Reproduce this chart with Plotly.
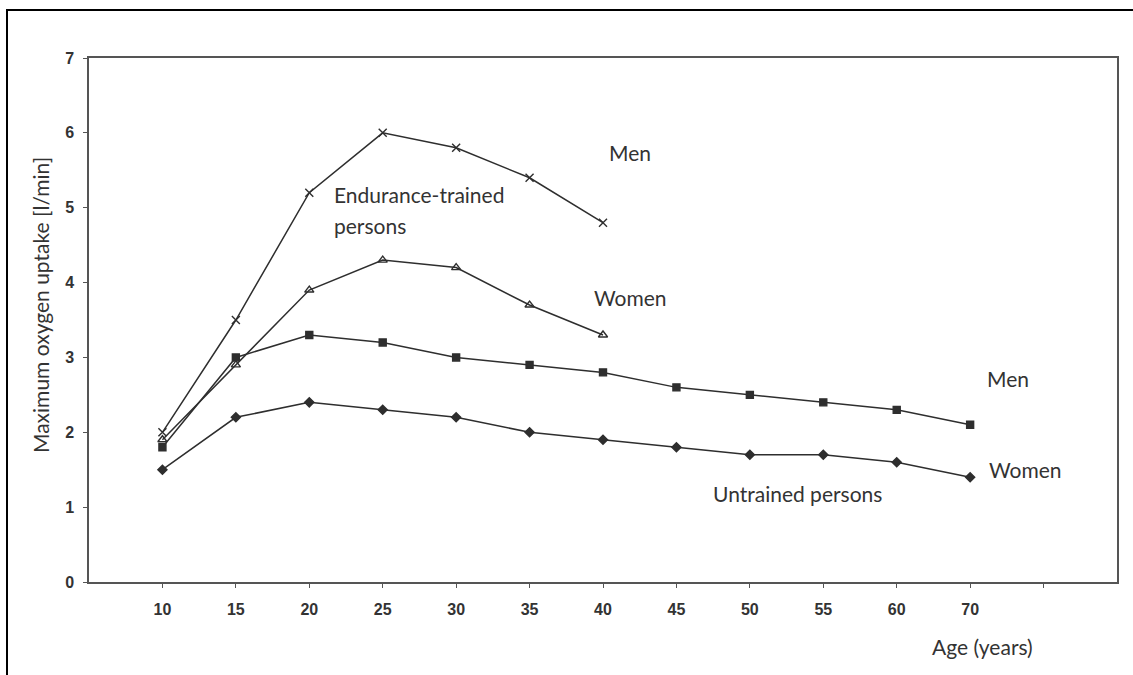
import plotly.graph_objects as go

ages = ["10", "15", "20", "25", "30", "35", "40", "45", "50", "55", "60", "70"]
trained_men = [2.0, 3.5, 5.2, 6.0, 5.8, 5.4, 4.8]
trained_women = [1.9, 2.9, 3.9, 4.3, 4.2, 3.7, 3.3]
untrained_men = [1.8, 3.0, 3.3, 3.2, 3.0, 2.9, 2.8, 2.6, 2.5, 2.4, 2.3, 2.1]
untrained_women = [1.5, 2.2, 2.4, 2.3, 2.2, 2.0, 1.9, 1.8, 1.7, 1.7, 1.6, 1.4]
y_ticks = [0, 1, 2, 3, 4, 5, 6, 7]

W, H = 1133, 675
L, R, T, B = 89, 16, 58, 93
pw, ph = W - L - R, H - T - B

pos = list(range(1, len(ages) + 1))
line_col = "#2e2e2e"

def px(xp):
    return (xp - L) / pw

def py(yp):
    return (H - B - yp) / ph

fig = go.Figure()

def add(vals, symbol, size):
    fig.add_trace(go.Scatter(
        x=pos[:len(vals)], y=vals, mode="lines+markers",
        line=dict(color=line_col, width=1.5),
        marker=dict(symbol=symbol, size=size, color=line_col,
                    line=dict(color=line_col, width=1.4)),
        showlegend=False, hoverinfo="skip"))

add(untrained_women, "diamond", 7)
add(untrained_men, "square", 7)
add(trained_women, "triangle-up-open", 8)
add(trained_men, "x-thin-open", 8)

lab_font = dict(family="Lato, Noto Sans, sans-serif", size=21, color="#333")
labels = [
    ("Men", 607, 152),
    ("Endurance-trained", 332, 195),
    ("persons", 332, 225),
    ("Women", 592, 297),
    ("Men", 985, 378),
    ("Women", 987, 469),
    ("Untrained persons", 711, 494),
    ("Age (years)", 930, 646),
]
for txt, xp, yp in labels:
    fig.add_annotation(x=px(xp), y=py(yp), xref="paper", yref="paper",
                       text=txt, showarrow=False, xanchor="left", yanchor="middle",
                       font=lab_font)

fig.add_annotation(x=px(40), y=py(305), xref="paper", yref="paper",
                   text="Maximum oxygen uptake [l/min]", showarrow=False,
                   textangle=-90, xanchor="center", yanchor="middle",
                   font=dict(family="Lato, Noto Sans, sans-serif", size=21, color="#333"))

# outer frame
fig.add_shape(type="rect", xref="paper", yref="paper",
              x0=px(7), x1=px(1145), y0=py(700), y1=py(10),
              line=dict(color="black", width=2), fillcolor="rgba(0,0,0,0)", layer="below")

tick_font = dict(family="Liberation Sans, Arial, sans-serif", size=16, color="#333")
fig.update_layout(
    width=W, height=H,
    margin=dict(l=L, r=R, t=T, b=B),
    paper_bgcolor="white", plot_bgcolor="white",
    xaxis=dict(range=[0, 14], tickmode="array",
               tickvals=list(range(1, 14)), ticktext=["<b>%s</b>" % a for a in ages] + [""],
               showgrid=False, zeroline=False, showline=True, mirror=True,
               linecolor="#555", linewidth=1.5, ticks="outside", ticklen=4,
               tickcolor="#555", tickfont=tick_font, ticklabelstandoff=8),
    yaxis=dict(range=[0, 7], tickmode="array", tickvals=y_ticks,
               ticktext=["<b>%d</b>" % v for v in y_ticks],
               showgrid=False, zeroline=False, showline=True, mirror=True,
               linecolor="#555", linewidth=1.5, ticks="outside", ticklen=4,
               tickcolor="#555", tickfont=tick_font, ticklabelstandoff=6),
)

fig.write_html("out.html", config={"displayModeBar": False},
               post_script="document.body.style.margin='0';")
